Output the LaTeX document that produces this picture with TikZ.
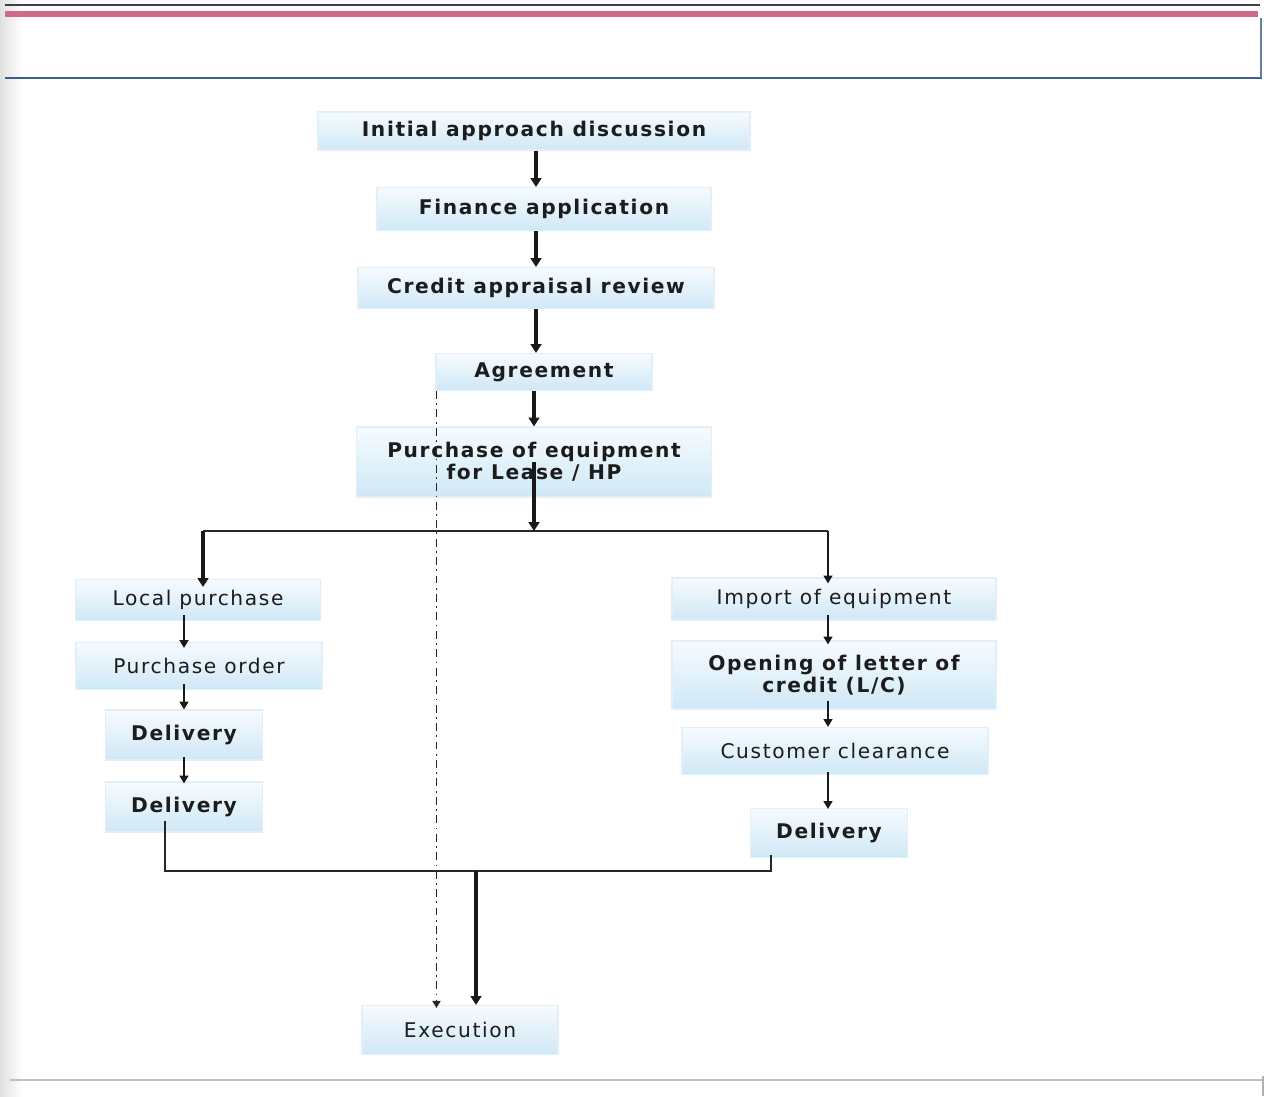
\documentclass[tikz,border=0pt]{standalone}
\usepackage{fontspec}
\setmainfont{DejaVu Sans}[LetterSpace=8]
\usetikzlibrary{arrows.meta,calc}
\definecolor{boxtop}{HTML}{F6FBFE}
\definecolor{boxbot}{HTML}{CFE8F6}
\definecolor{boxedge}{HTML}{E2EFF7}
\definecolor{txt}{HTML}{1C1C1C}
\definecolor{pinkbar}{HTML}{CF6B86}
\definecolor{blueline}{HTML}{3D5E8E}
\tikzset{
  box/.style={shape=rectangle, inner sep=0pt, top color=boxtop, bottom color=boxbot,
    draw=boxedge, line width=0.6pt, text=txt, align=center, font=\fontsize{11.5}{12.5}\selectfont},
  bbox/.style={box, font=\fontsize{11.5}{12.5}\selectfont\bfseries},
  sz/.style 2 args={minimum width=#1*0.02cm, minimum height=#2*0.02cm},
  arr/.style={-{Triangle[width=5pt,length=4.5pt]}, line width=1.3pt, color=black!90},
  arrthick/.style={-{Triangle[width=6pt,length=5pt]}, line width=1.9pt, color=black!90},
  joinline/.style={line width=1pt, color=black!85},
  ddline/.style={dash pattern=on 4.5pt off 2.5pt on 1pt off 2.5pt, line width=1.1pt,
    -{Triangle[width=4.5pt,length=4pt]}, color=black!85}
}
\begin{document}
\begin{tikzpicture}[x=0.02cm,y=-0.02cm]
\useasboundingbox (0,0) rectangle (1270,1096);
% page frame / scan artefacts
\fill[left color=black!12, right color=white] (0,0) rectangle (22,1096);
\draw[line width=1.2pt, black!75] (5,5) -- (1260,5);
\fill[pinkbar] (5,11) rectangle (1258,17);
\draw[line width=1.6pt, blueline] (5,78) -- (1262,78);
\draw[line width=0.9pt, blueline!80] (1261,18) -- (1261,78);
\draw[line width=0.9pt, black!25] (10,1080) -- (1262,1080);
\draw[line width=0.9pt, black!30] (1263,1076) -- (1263,1096);

% main column
\node[bbox, sz={432}{38}] (ini) at (534,131) {Initial approach discussion};
\node[bbox, sz={334}{43}] (fin) at (544,209) {Finance application};
\node[bbox, sz={356}{41}] (cre) at (536,288) {Credit appraisal review};
\node[bbox, sz={216}{37}] (agr) at (544,372) {Agreement};
\node[bbox, sz={355}{70}] (pur) at (534,462) {Purchase of equipment\\for Lease / HP};

% left branch
\node[box, sz={245}{41}] (loc) at (198,600) {Local purchase};
\node[box, sz={246}{47}] (po) at (199,666) {Purchase order};
\node[bbox, sz={157}{50}] (dl1) at (184,735) {Delivery};
\node[bbox, sz={157}{50}] (dl2) at (184,807) {Delivery};

% right branch
\node[box, sz={324}{42}] (imp) at (834,599) {Import of equipment};
\node[bbox, sz={324}{68}] (lc) at (834,675) {Opening of letter of\\credit (L/C)};
\node[box, sz={306}{47}] (cus) at (835,751) {Customer clearance};
\node[bbox, sz={157}{49}] (dlr) at (829,833) {Delivery};

% execution
\node[box, sz={196}{49}] (exe) at (460,1030) {Execution};

% junction coordinates
\coordinate (jtop) at (534,531);
\coordinate (jl) at (203,531);
\coordinate (jr) at (828,531);
\coordinate (jbl) at (165,871);
\coordinate (jbr) at (771,871);
\coordinate (jmid) at (476,871);

% main arrows
\draw[arrthick] (ini.south -| cre) -- (fin.north -| cre);
\draw[arrthick] (fin.south -| cre) -- (cre.north -| cre);
\draw[arrthick] (cre.south) -- (agr.north -| cre);
\draw[arrthick] (agr.south -| pur) -- (pur.north);
\draw[arrthick] (pur.center) -- (jtop);

% split
\draw[joinline] (jl) -- (jr);
\draw[arrthick] (jl) -- ([yshift=-8*0.02cm]loc.north -| jl);
\draw[arr] (jr) -- ([yshift=-6*0.02cm]imp.north -| jr);

% left chain
\draw[arr] ([yshift=6*0.02cm]loc.south -| dl1) -- ([yshift=-6*0.02cm]po.north -| dl1);
\draw[arr] ([yshift=6*0.02cm]po.south -| dl1) -- (dl1.north);
\draw[arr] ([yshift=4*0.02cm]dl1.south) -- ([yshift=-2*0.02cm]dl2.north);

% right chain
\draw[arr] ([yshift=6*0.02cm]imp.south -| jr) -- ([yshift=-4*0.02cm]lc.north -| jr);
\draw[arr] ([yshift=9*0.02cm]lc.south -| jr) -- (cus.north -| jr);
\draw[arr] ([yshift=3*0.02cm]cus.south -| jr) -- ([yshift=-1*0.02cm]dlr.north -| jr);

% join
\draw[joinline] ([yshift=12*0.02cm]dl2.south -| jbl) -- (jbl) -- (jbr) -- ([yshift=3*0.02cm]dlr.south -| jbr);
\draw[arrthick] (jmid) -- (exe.north -| jmid);

% dash-dot bypass
\draw[ddline] ([xshift=1*0.02cm]agr.south west) -- ([xshift=1*0.02cm,yshift=-3*0.02cm]agr.south west |- exe.north);
\end{tikzpicture}
\end{document}
